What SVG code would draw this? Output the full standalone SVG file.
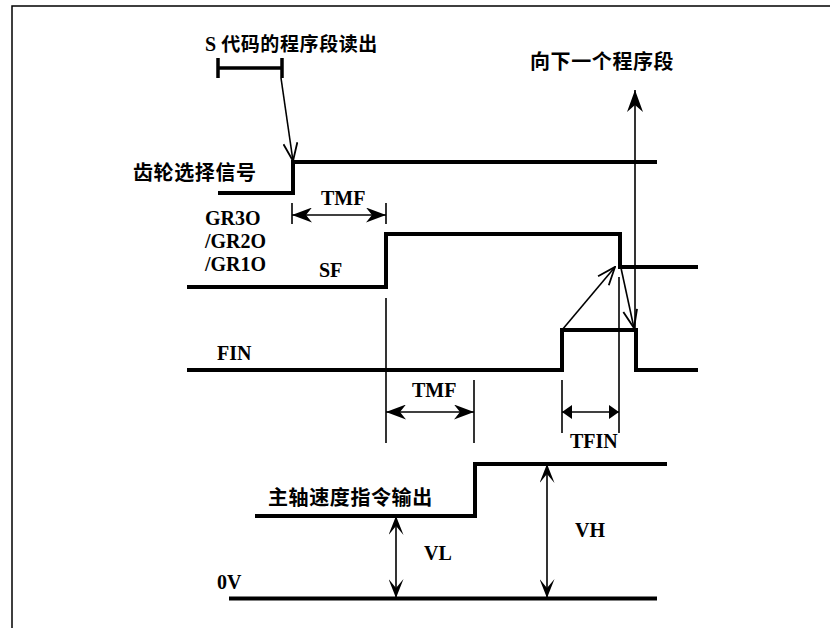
<svg xmlns="http://www.w3.org/2000/svg" width="830" height="628" viewBox="0 0 830 628">
<style>
.sig{fill:none;stroke:#000;stroke-width:4;stroke-linejoin:miter;stroke-linecap:butt}
.thin{fill:none;stroke:#000;stroke-width:1.6}
.lat{font-family:"Liberation Serif","Times New Roman",serif;font-weight:bold;font-size:20px;fill:#000}
.cjk{font-family:"Noto Sans CJK SC","Noto Sans CJK JP",sans-serif;font-weight:bold;font-size:20px;letter-spacing:0.6px;fill:#000}
</style>
<defs>
<marker id="big" viewBox="0 0 20 15" markerWidth="20" markerHeight="15" refX="20" refY="7.5" orient="auto-start-reverse" markerUnits="userSpaceOnUse"><path d="M0,0 L20,7.5 L0,15 L6,7.5 z" fill="#000"/></marker>
<marker id="small" viewBox="0 0 10 14" markerWidth="10" markerHeight="14" refX="10" refY="7" orient="auto-start-reverse" markerUnits="userSpaceOnUse"><path d="M0,0 L10,7 L0,14 z" fill="#000"/></marker>
<marker id="vl" viewBox="0 0 19 15" markerWidth="19" markerHeight="15" refX="19" refY="7.5" orient="auto-start-reverse" markerUnits="userSpaceOnUse"><path d="M0,0 L19,7.5 L0,15 L9,7.5 z" fill="#000"/></marker>
<marker id="up" viewBox="0 0 22 16" markerWidth="22" markerHeight="16" refX="22" refY="8" orient="auto" markerUnits="userSpaceOnUse"><path d="M0,0 L22,8 L0,16 L7,8 z" fill="#000"/></marker>
<marker id="open" viewBox="-1 -1 20 16" markerWidth="20" markerHeight="16" refX="18" refY="7" orient="auto" markerUnits="userSpaceOnUse"><path d="M0,0 L18,7 L0,14" fill="none" stroke="#000" stroke-width="1.8"/></marker>
</defs>

<g id="frame"><path d="M12,628 V6 H830" fill="none" stroke="#000" stroke-width="1.5"/></g>

<g id="s-code">
<path d="M218,68 H282 M218,58 V78 M282,58 V78" fill="none" stroke="#000" stroke-width="3.5"/>
<text class="lat" x="205" y="51">S <tspan class="cjk" style="font-size:19px">代码的程序段读出</tspan></text>
</g>

<g id="gear-select">
<text class="cjk" x="133" y="180">齿轮选择信号</text>
<polyline class="sig" points="218,193 293,193 293,162 657,162"/>
</g>

<g id="sf">
<text class="lat" x="205" y="225">GR3O</text>
<text class="lat" x="205" y="248">/GR2O</text>
<text class="lat" x="205" y="271">/GR1O</text>
<text class="lat" x="319" y="277">SF</text>
<polyline class="sig" points="187,287 386,287 386,234 620,234 620,267 698,267"/>
</g>

<g id="fin">
<text class="lat" x="217" y="360">FIN</text>
<polyline class="sig" points="187,370 562,370 562,330 636,330 636,370 698,370"/>
</g>

<g id="next-block">
<text class="cjk" x="530" y="69">向下一个程序段</text>
</g>

<g id="spindle">
<text class="cjk" x="268" y="505">主轴速度指令输出</text>
<polyline class="sig" points="255,516 475,516 475,464 667,464"/>
</g>

<g id="zero-v">
<text class="lat" x="217" y="589">0V</text>
<line class="sig" x1="229" y1="598.5" x2="657" y2="598.5"/>
</g>

<g id="connectors">
<line class="thin" x1="281" y1="78" x2="293" y2="161" marker-end="url(#open)"/>
<path class="thin" d="M292,203 V224 M386,203 V224"/>
<line class="thin" x1="292" y1="215" x2="386" y2="215" marker-start="url(#big)" marker-end="url(#big)"/>
<text class="lat" x="321" y="205">TMF</text>
<line class="thin" x1="386" y1="298" x2="386" y2="443"/>
<line class="thin" x1="474" y1="380" x2="474" y2="443"/>
<line class="thin" x1="386" y1="412" x2="474" y2="412" marker-start="url(#big)" marker-end="url(#big)"/>
<text class="lat" x="412" y="397">TMF</text>
<line class="thin" x1="562" y1="330" x2="615" y2="267" marker-end="url(#open)"/>
<line class="thin" x1="621" y1="268" x2="634" y2="328" marker-end="url(#open)"/>
<line class="thin" x1="635" y1="330" x2="635" y2="90" marker-end="url(#up)"/>
<line class="thin" x1="562" y1="380" x2="562" y2="433"/>
<line class="thin" x1="619" y1="277" x2="619" y2="433"/>
<line class="thin" x1="562" y1="412" x2="619" y2="412" marker-start="url(#small)" marker-end="url(#small)"/>
<text class="lat" x="570" y="448">TFIN</text>
<line class="thin" x1="396" y1="516" x2="396" y2="598" marker-start="url(#vl)" marker-end="url(#vl)"/>
<text class="lat" x="424" y="560">VL</text>
<line class="thin" x1="547" y1="464" x2="547" y2="598" marker-start="url(#vl)" marker-end="url(#vl)"/>
<text class="lat" x="575" y="537">VH</text>
</g>
</svg>
